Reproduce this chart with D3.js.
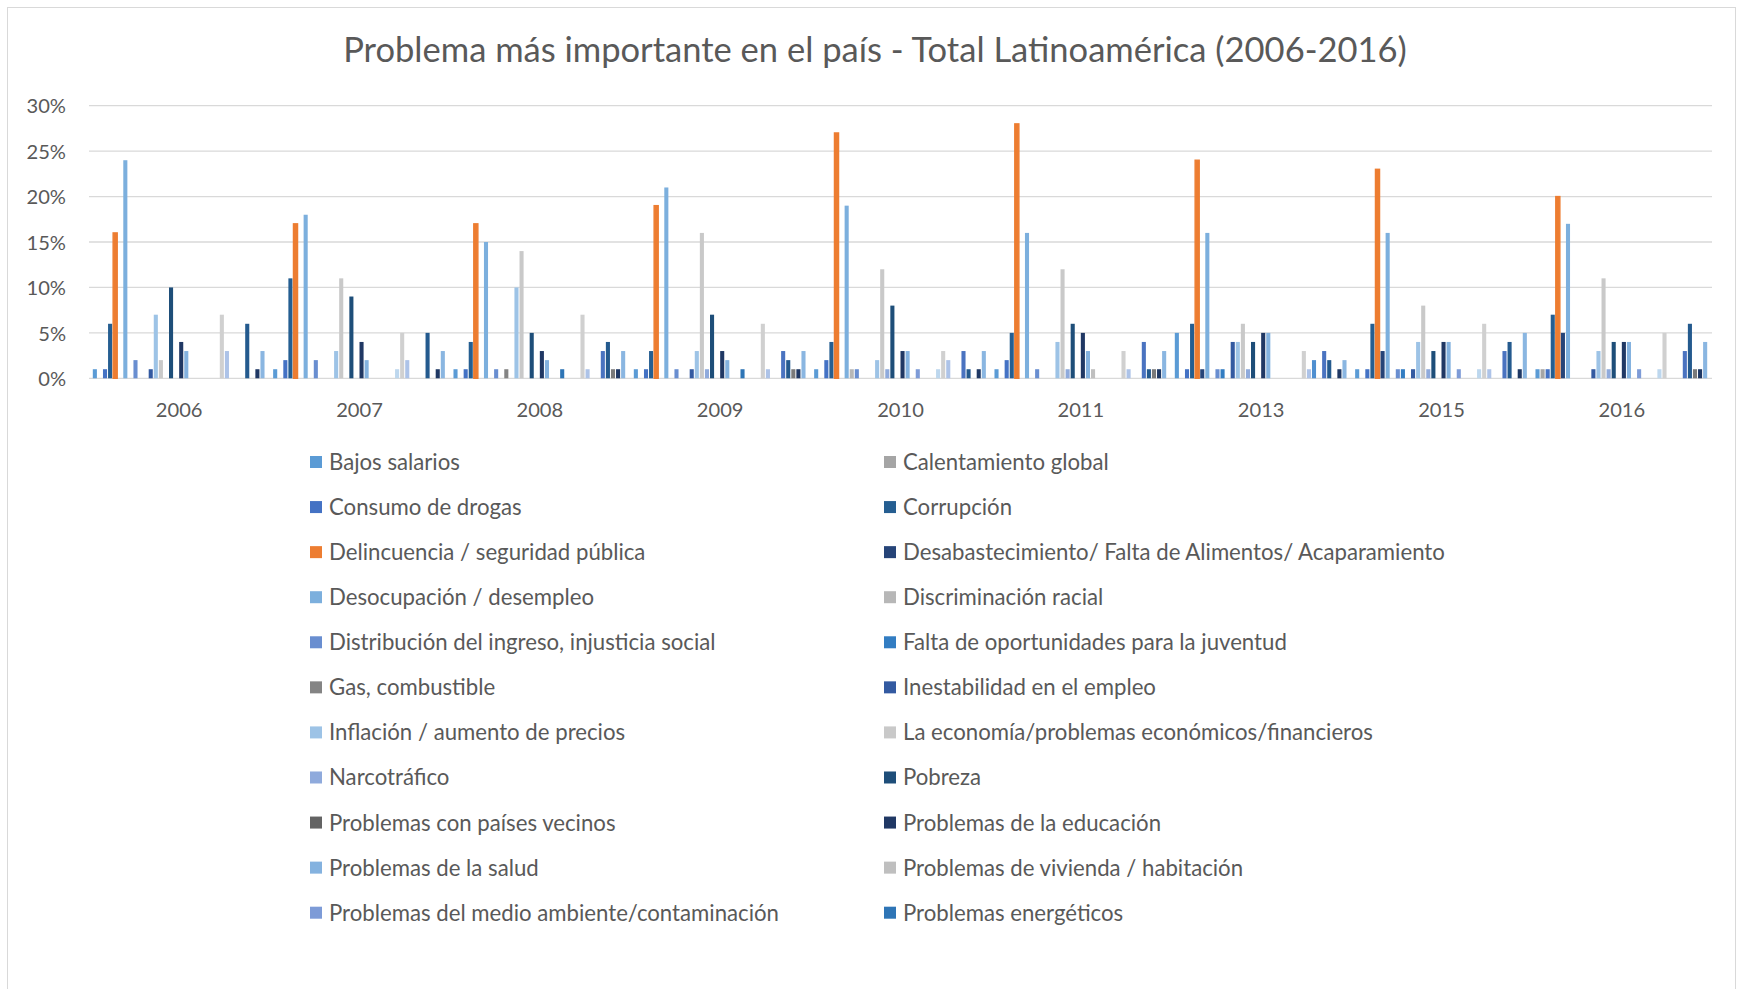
<!DOCTYPE html>
<html>
<head>
<meta charset="utf-8">
<script src="https://cdn.jsdelivr.net/npm/d3@7"></script>
<style>
  body { margin: 0; background: #fff; }
  svg text { font-family: Lato, "Open Sans", sans-serif; fill: #595959; }
</style>
</head>
<body>
<div id="chart"></div>
<script>
// Datos (porcentaje por año, en el orden de las series)
const years = ['2006', '2007', '2008', '2009', '2010', '2011', '2013', '2015', '2016'];

const seriesNames = [
    'Bajos salarios', 'Calentamiento global',
    'Consumo de drogas', 'Corrupción',
    'Delincuencia / seguridad pública', 'Desabastecimiento/ Falta de Alimentos/ Acaparamiento',
    'Desocupación / desempleo', 'Discriminación racial',
    'Distribución del ingreso, injusticia social', 'Falta de oportunidades para la juventud',
    'Gas, combustible', 'Inestabilidad en el empleo',
    'Inflación / aumento de precios', 'La economía/problemas económicos/financieros',
    'Narcotráfico', 'Pobreza',
    'Problemas con países vecinos', 'Problemas de la educación',
    'Problemas de la salud', 'Problemas de vivienda / habitación',
    'Problemas del medio ambiente/contaminación', 'Problemas energéticos',
    // series que no caben en la leyenda del original
    'Problemas limítrofes', 'Problemas políticos',
    'Racionamiento', 'Racismo',
    'Situación política', 'Terrorismo / violencia política / guerrilla',
    'Transporte', 'Violación de los derechos humanos',
    'Violencia / pandillas', 'Violencia contra la mujer',
    'Otro', 'Ninguno'
];

const seriesColors = [
    '#5B9BD5', '#A5A5A5', '#4472C4', '#255E91', '#ED7D31', '#264478',
    '#7CAFDD', '#B7B7B7', '#698ED0', '#327DC2', '#848484', '#335AA1',
    '#9DC3E6', '#C9C9C9', '#8FAADC', '#1E4E79', '#636363', '#203864',
    '#84B2DF', '#BFBFBF', '#7D9BD7', '#2E75B6', '#2F5597', '#3A5FA3',
    '#BDD7EE', '#D0D0D0', '#ADC3E8', '#4F8FD0', '#5A7FC6', '#4A73C0',
    '#245A8E', '#7A7A7A', '#1F3864', '#8AB6E1'
];

const v2006 = [1,0,1,6,16,0,24,0,2,0, 0,1,7,2,0,10,0,4,3,0, 0,0,0,0,0,7,3,0,0,0, 6,0,1,3];
const v2007 = [1,0,2,11,17,0,18,0,2,0, 0,0,3,11,0,9,0,4,2,0, 0,0,0,0,1,5,2,0,0,0, 5,0,1,3];
const v2008 = [1,0,1,4,17,0,15,0,1,0, 1,0,10,14,0,5,0,3,2,0, 0,1,0,0,0,7,1,0,0,3, 4,1,1,3];
const v2009 = [1,0,1,3,19,0,21,0,1,0, 0,1,3,16,1,7,0,3,2,0, 0,1,0,0,0,6,1,0,0,3, 2,1,1,3];
const v2010 = [1,0,2,4,27,0,19,1,1,0, 0,0,2,12,1,8,0,3,3,0, 1,0,0,0,1,3,2,0,0,3, 1,0,1,3];
const v2011 = [1,0,2,5,28,0,16,0,1,0, 0,0,4,12,1,6,0,5,3,1, 0,0,0,0,0,3,1,0,0,4, 1,1,1,3];
const v2013 = [5,0,1,6,24,1,16,0,1,1, 0,4,4,6,1,4,0,5,5,0, 0,0,0,0,0,3,1,2,0,3, 2,0,1,2];
const v2015 = [1,0,1,6,23,3,16,0,1,1, 0,1,4,8,1,3,0,4,4,0, 1,0,0,0,1,6,1,0,0,3, 4,0,1,5];
const v2016 = [1,1,1,7,20,5,17,0,0,0, 0,1,3,11,1,4,0,4,4,0, 1,0,0,0,1,5,0,0,0,3, 6,1,1,4];

const yearValues = [v2006, v2007, v2008, v2009, v2010, v2011, v2013, v2015, v2016];
const yTicks = [0, 0.05, 0.10, 0.15, 0.20, 0.25, 0.30];
const legendCount = 22; // el original solo muestra 22 entradas

const title = 'Problema más importante en el país - Total Latinoamérica (2006-2016)';

// Dimensiones
const W = 1741, H = 989;
const plot = {left: 89, right: 1712, top: 105.7, bottom: 378.3};

const svg = d3.select('#chart').append('svg')
    .attr('width', W)
    .attr('height', H);

svg.append('rect')
    .attr('width', W).attr('height', H)
    .attr('fill', '#fff');

// Borde del gráfico
svg.append('rect')
    .attr('x', 7.5).attr('y', 7.5)
    .attr('width', 1728).attr('height', 1000)
    .attr('fill', 'none')
    .attr('stroke', '#D9D9D9')
    .attr('stroke-width', 1);

// Ajustar el tamaño de letra al ancho del original
function fitSize(text, target) {
    const t = svg.append('text').style('font-size', '20px').text(text);
    const w = t.node().getComputedTextLength();
    t.remove();
    return 20 * target / w;
}
const titleSize = fitSize(title, 1064);
const tickSize = fitSize('2006', 46.7);
const legendSize = fitSize('Bajos salarios', 131);

// Escalas
const x0 = d3.scaleBand()
    .domain(years)
    .range([plot.left, plot.right])
    .padding(0);

const x1 = d3.scaleBand()
    .domain(d3.range(seriesNames.length))
    .range([0, x0.bandwidth()])
    .paddingInner(0)
    .paddingOuter(0.75);

const y = d3.scaleLinear()
    .domain([0, 0.30])
    .range([plot.bottom, plot.top]);

// Líneas de cuadrícula
svg.append('g')
    .selectAll('line')
    .data(yTicks)
    .join('line')
    .attr('x1', plot.left)
    .attr('x2', plot.right)
    .attr('y1', d => y(d))
    .attr('y2', d => y(d))
    .attr('stroke', '#D9D9D9')
    .attr('stroke-width', 1.3);

// Eje Y
const yAxis = svg.append('g')
    .attr('transform', `translate(${plot.left - 23},0)`)
    .call(d3.axisLeft(y).tickValues(yTicks).tickFormat(d3.format('.0%')).tickSize(0).tickPadding(0));
yAxis.select('.domain').remove();
yAxis.selectAll('text')
    .attr('dy', '0.36em')
    .style('font-size', tickSize + 'px')
    .style('font-family', 'Lato, sans-serif')
    .attr('fill', '#595959');

// Eje X
const xAxis = svg.append('g')
    .attr('transform', `translate(0,${plot.bottom})`)
    .call(d3.axisBottom(x0).tickSize(0).tickPadding(0));
xAxis.select('.domain').remove();
xAxis.selectAll('text')
    .attr('y', 38.4)
    .attr('dy', 0)
    .style('font-size', tickSize + 'px')
    .style('font-family', 'Lato, sans-serif')
    .attr('fill', '#595959');

// Barras
const bars = [];
yearValues.forEach((vals, g) => {
    vals.forEach((v, i) => {
        if (v > 0) bars.push({year: years[g], serie: i, value: v / 100});
    });
});

svg.append('g')
    .selectAll('rect')
    .data(bars)
    .join('rect')
    .attr('x', d => x0(d.year) + x1(d.serie))
    .attr('y', d => y(d.value))
    .attr('width', x1.bandwidth() - 1)
    .attr('height', d => plot.bottom - y(d.value))
    .attr('fill', d => seriesColors[d.serie])
    .attr('stroke', d => d.serie === 4 ? seriesColors[4] : 'none')
    .attr('stroke-width', 1.4);

// Título
svg.append('text')
    .attr('x', 875)
    .attr('y', 61.5)
    .attr('text-anchor', 'middle')
    .style('font-size', titleSize + 'px')
    .text(title);

// Leyenda (dos columnas, filas de 45 px)
const legend = svg.append('g')
    .selectAll('g')
    .data(seriesNames.slice(0, legendCount))
    .join('g')
    .attr('transform', (d, i) => {
        const col = i % 2, row = Math.floor(i / 2);
        return `translate(${col === 0 ? 310 : 884},${462 + row * 45.07})`;
    });

legend.append('rect')
    .attr('x', 0).attr('y', -6)
    .attr('width', 12).attr('height', 12)
    .attr('fill', (d, i) => seriesColors[i]);

legend.append('text')
    .attr('x', 19)
    .attr('y', 8)
    .style('font-size', legendSize + 'px')
    .text(d => d);
</script>
</body>
</html>
